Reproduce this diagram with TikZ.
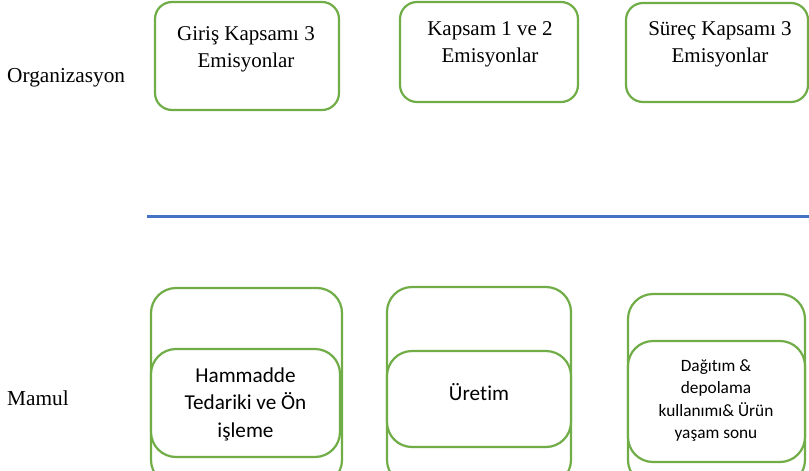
\documentclass[tikz,border=0pt]{standalone}
\usepackage{fontspec}
\setmainfont{Liberation Serif}
\newfontfamily\calib[Ligatures=NoCommon]{Carlito}
\definecolor{grn}{HTML}{70AD47}
\definecolor{blu}{HTML}{4472C4}
\begin{document}
\begin{tikzpicture}[x=1pt,y=-1pt,
 topbox/.style={draw=grn, line width=2.2pt, rounded corners=17pt, fill=white, inner sep=0pt, outer sep=0pt},
 botbox/.style={draw=grn, line width=2.2pt, rounded corners=25pt, fill=white, inner sep=0pt, outer sep=0pt},
 toptxt/.style={font=\fontsize{21}{27}\selectfont, align=center, inner sep=0pt},
 bottxt/.style={font=\calib\fontsize{21.2}{27.5}\selectfont, align=center, inner sep=0pt},
 smalltxt/.style={font=\calib\fontsize{17.3}{22.5}\selectfont, align=center, inner sep=0pt},
 lbl/.style={font=\fontsize{21.3}{24}\selectfont, anchor=west, inner sep=0pt},
]
\useasboundingbox (0,0) rectangle (809,471);
\clip (0,0) rectangle (809,471);
% top row
\node[topbox, minimum width=184pt, minimum height=108pt] (b1) at (247,56) {};
\node[topbox, minimum width=178pt, minimum height=100pt] (b2) at (489,52) {};
\node[topbox, minimum width=182pt, minimum height=99pt] (b3) at (717,52.5) {};
\node[toptxt] (t1) at (246,49.5) {Giriş Kapsamı 3\\Emisyonlar};
\node[toptxt] (t2) at (490,44.5) {Kapsam 1 ve 2\\Emisyonlar};
\node[toptxt] (t3) at (720,44.5) {Süreç Kapsamı 3\\Emisyonlar};
\node[lbl] (org) at (7,78) {Organizasyon};
% separator
\coordinate (l1) at (147,216);
\coordinate (l2) at (809,216);
\draw[blu, line width=3pt] (l1) -- (l2);
% bottom row
\node[botbox, minimum width=191pt, minimum height=197pt] (oa) at (246.5,386.5) {};
\node[botbox, minimum width=189pt, minimum height=108pt] (ia) at (245.5,403) {};
\node[botbox, minimum width=184pt, minimum height=198pt] (ob) at (479,386) {};
\node[botbox, minimum width=184pt, minimum height=96pt] (ib) at (479,399) {};
\node[botbox, minimum width=177pt, minimum height=191pt] (oc) at (716.5,389.5) {};
\node[botbox, minimum width=177pt, minimum height=121pt] (ic) at (716.5,401.5) {};
\node[bottxt] (ta) at (245.5,404) {Hammadde\\Tedariki ve Ön\\işleme};
\node[bottxt] (tb) at (479,392) {Üretim};
\node[smalltxt] (tc) at (716,400.5) {Dağıtım \&\\depolama\\kullanımı\& Ürün\\yaşam sonu};
\node[lbl] (mam) at (7,398) {Mamul};
\end{tikzpicture}
\end{document}
